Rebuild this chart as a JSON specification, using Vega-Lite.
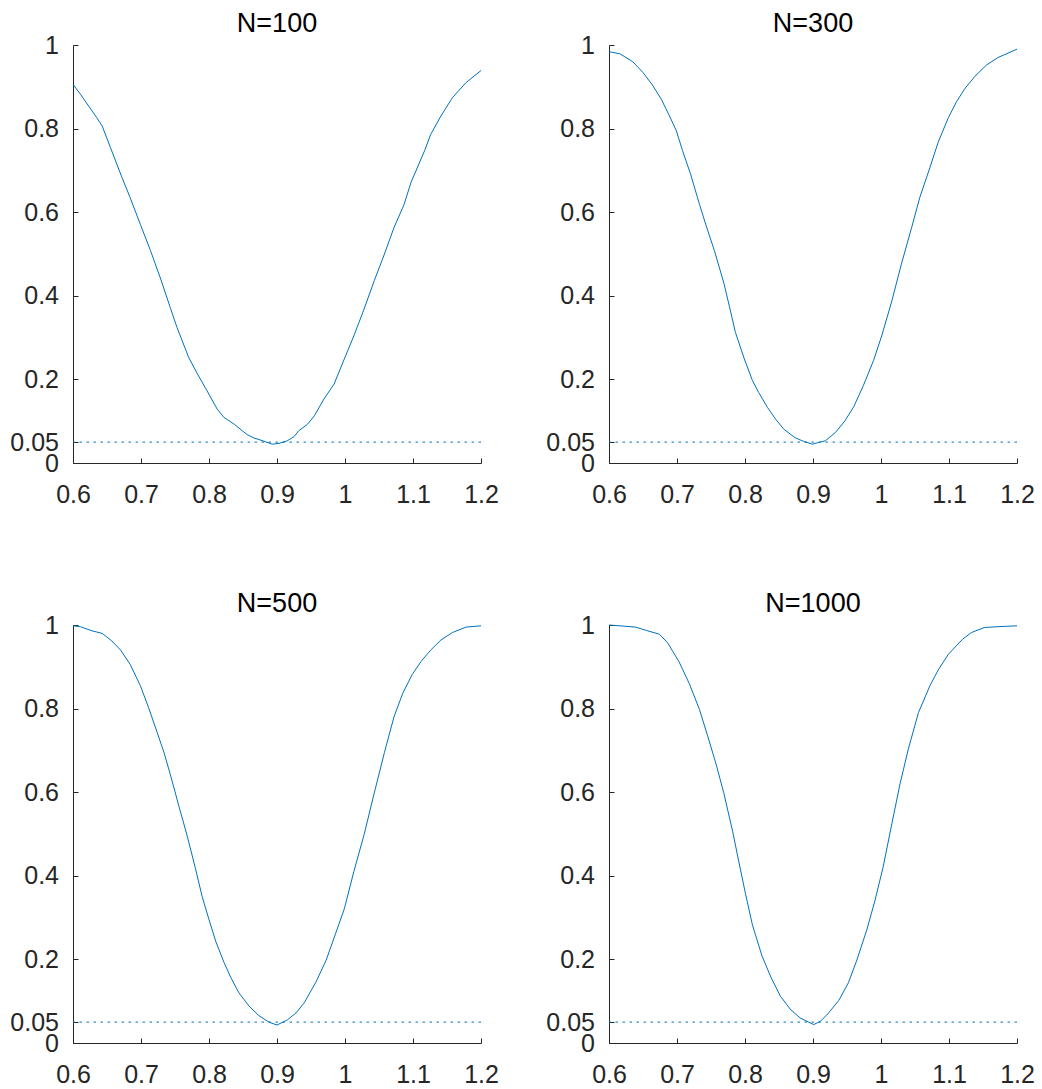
{
  "$schema": "https://vega.github.io/schema/vega-lite/v6.json",
  "background": "white",
  "padding": {"left": 9, "top": 10, "right": 5, "bottom": 5},
  "datasets": {
    "power": [
      {"N":100,"x":0.600,"p":0.906},{"N":100,"x":0.611,"p":0.882},{"N":100,"x":0.635,"p":0.826},{"N":100,"x":0.643,"p":0.806},{"N":100,"x":0.655,"p":0.755},{"N":100,"x":0.672,"p":0.683},{"N":100,"x":0.684,"p":0.635},{"N":100,"x":0.699,"p":0.571},{"N":100,"x":0.714,"p":0.508},{"N":100,"x":0.729,"p":0.440},{"N":100,"x":0.743,"p":0.372},{"N":100,"x":0.753,"p":0.324},{"N":100,"x":0.770,"p":0.253},{"N":100,"x":0.783,"p":0.213},{"N":100,"x":0.797,"p":0.173},{"N":100,"x":0.812,"p":0.129},{"N":100,"x":0.822,"p":0.109},{"N":100,"x":0.837,"p":0.093},{"N":100,"x":0.849,"p":0.077},{"N":100,"x":0.856,"p":0.068},{"N":100,"x":0.866,"p":0.060},{"N":100,"x":0.881,"p":0.052},{"N":100,"x":0.893,"p":0.045},{"N":100,"x":0.903,"p":0.047},{"N":100,"x":0.915,"p":0.053},{"N":100,"x":0.925,"p":0.063},{"N":100,"x":0.932,"p":0.077},{"N":100,"x":0.945,"p":0.093},{"N":100,"x":0.955,"p":0.113},{"N":100,"x":0.969,"p":0.153},{"N":100,"x":0.984,"p":0.189},{"N":100,"x":0.999,"p":0.249},{"N":100,"x":1.013,"p":0.304},{"N":100,"x":1.028,"p":0.368},{"N":100,"x":1.043,"p":0.436},{"N":100,"x":1.058,"p":0.500},{"N":100,"x":1.072,"p":0.563},{"N":100,"x":1.087,"p":0.619},{"N":100,"x":1.097,"p":0.671},{"N":100,"x":1.117,"p":0.747},{"N":100,"x":1.126,"p":0.786},{"N":100,"x":1.141,"p":0.830},{"N":100,"x":1.158,"p":0.874},{"N":100,"x":1.178,"p":0.910},{"N":100,"x":1.200,"p":0.939},
      {"N":300,"x":0.600,"p":0.984},{"N":300,"x":0.616,"p":0.979},{"N":300,"x":0.635,"p":0.960},{"N":300,"x":0.650,"p":0.934},{"N":300,"x":0.664,"p":0.904},{"N":300,"x":0.677,"p":0.870},{"N":300,"x":0.689,"p":0.830},{"N":300,"x":0.699,"p":0.795},{"N":300,"x":0.708,"p":0.748},{"N":300,"x":0.720,"p":0.691},{"N":300,"x":0.733,"p":0.619},{"N":300,"x":0.743,"p":0.567},{"N":300,"x":0.755,"p":0.508},{"N":300,"x":0.769,"p":0.430},{"N":300,"x":0.777,"p":0.375},{"N":300,"x":0.786,"p":0.312},{"N":300,"x":0.799,"p":0.249},{"N":300,"x":0.811,"p":0.197},{"N":300,"x":0.820,"p":0.169},{"N":300,"x":0.833,"p":0.133},{"N":300,"x":0.845,"p":0.105},{"N":300,"x":0.857,"p":0.081},{"N":300,"x":0.874,"p":0.060},{"N":300,"x":0.886,"p":0.052},{"N":300,"x":0.899,"p":0.045},{"N":300,"x":0.908,"p":0.049},{"N":300,"x":0.918,"p":0.053},{"N":300,"x":0.933,"p":0.073},{"N":300,"x":0.947,"p":0.101},{"N":300,"x":0.960,"p":0.135},{"N":300,"x":0.974,"p":0.185},{"N":300,"x":0.989,"p":0.245},{"N":300,"x":1.001,"p":0.304},{"N":300,"x":1.016,"p":0.388},{"N":300,"x":1.030,"p":0.476},{"N":300,"x":1.045,"p":0.563},{"N":300,"x":1.057,"p":0.635},{"N":300,"x":1.072,"p":0.707},{"N":300,"x":1.084,"p":0.767},{"N":300,"x":1.099,"p":0.826},{"N":300,"x":1.111,"p":0.864},{"N":300,"x":1.123,"p":0.895},{"N":300,"x":1.138,"p":0.925},{"N":300,"x":1.155,"p":0.952},{"N":300,"x":1.172,"p":0.970},{"N":300,"x":1.200,"p":0.990},
      {"N":500,"x":0.600,"p":0.998},{"N":500,"x":0.611,"p":0.996},{"N":500,"x":0.628,"p":0.986},{"N":500,"x":0.643,"p":0.980},{"N":500,"x":0.657,"p":0.962},{"N":500,"x":0.670,"p":0.940},{"N":500,"x":0.684,"p":0.906},{"N":500,"x":0.699,"p":0.855},{"N":500,"x":0.711,"p":0.803},{"N":500,"x":0.724,"p":0.742},{"N":500,"x":0.734,"p":0.694},{"N":500,"x":0.743,"p":0.643},{"N":500,"x":0.756,"p":0.565},{"N":500,"x":0.768,"p":0.495},{"N":500,"x":0.780,"p":0.418},{"N":500,"x":0.790,"p":0.350},{"N":500,"x":0.800,"p":0.295},{"N":500,"x":0.810,"p":0.243},{"N":500,"x":0.822,"p":0.193},{"N":500,"x":0.832,"p":0.157},{"N":500,"x":0.844,"p":0.120},{"N":500,"x":0.859,"p":0.088},{"N":500,"x":0.873,"p":0.066},{"N":500,"x":0.888,"p":0.050},{"N":500,"x":0.900,"p":0.043},{"N":500,"x":0.915,"p":0.055},{"N":500,"x":0.928,"p":0.072},{"N":500,"x":0.940,"p":0.096},{"N":500,"x":0.957,"p":0.145},{"N":500,"x":0.972,"p":0.197},{"N":500,"x":0.986,"p":0.261},{"N":500,"x":0.999,"p":0.321},{"N":500,"x":1.013,"p":0.410},{"N":500,"x":1.028,"p":0.498},{"N":500,"x":1.043,"p":0.598},{"N":500,"x":1.058,"p":0.695},{"N":500,"x":1.072,"p":0.780},{"N":500,"x":1.085,"p":0.837},{"N":500,"x":1.099,"p":0.882},{"N":500,"x":1.112,"p":0.913},{"N":500,"x":1.126,"p":0.940},{"N":500,"x":1.141,"p":0.964},{"N":500,"x":1.158,"p":0.982},{"N":500,"x":1.178,"p":0.995},{"N":500,"x":1.200,"p":0.998},
      {"N":1000,"x":0.600,"p":1.000},{"N":1000,"x":0.616,"p":0.998},{"N":1000,"x":0.639,"p":0.995},{"N":1000,"x":0.655,"p":0.987},{"N":1000,"x":0.674,"p":0.978},{"N":1000,"x":0.686,"p":0.958},{"N":1000,"x":0.703,"p":0.912},{"N":1000,"x":0.718,"p":0.860},{"N":1000,"x":0.733,"p":0.798},{"N":1000,"x":0.745,"p":0.735},{"N":1000,"x":0.757,"p":0.670},{"N":1000,"x":0.769,"p":0.597},{"N":1000,"x":0.782,"p":0.505},{"N":1000,"x":0.791,"p":0.433},{"N":1000,"x":0.801,"p":0.355},{"N":1000,"x":0.811,"p":0.282},{"N":1000,"x":0.825,"p":0.208},{"N":1000,"x":0.838,"p":0.158},{"N":1000,"x":0.852,"p":0.112},{"N":1000,"x":0.867,"p":0.080},{"N":1000,"x":0.881,"p":0.060},{"N":1000,"x":0.901,"p":0.044},{"N":1000,"x":0.911,"p":0.052},{"N":1000,"x":0.923,"p":0.072},{"N":1000,"x":0.938,"p":0.102},{"N":1000,"x":0.952,"p":0.144},{"N":1000,"x":0.964,"p":0.196},{"N":1000,"x":0.979,"p":0.270},{"N":1000,"x":0.991,"p":0.340},{"N":1000,"x":1.003,"p":0.420},{"N":1000,"x":1.016,"p":0.525},{"N":1000,"x":1.028,"p":0.620},{"N":1000,"x":1.040,"p":0.702},{"N":1000,"x":1.055,"p":0.790},{"N":1000,"x":1.072,"p":0.855},{"N":1000,"x":1.084,"p":0.892},{"N":1000,"x":1.099,"p":0.930},{"N":1000,"x":1.120,"p":0.966},{"N":1000,"x":1.133,"p":0.982},{"N":1000,"x":1.152,"p":0.994},{"N":1000,"x":1.172,"p":0.996},{"N":1000,"x":1.200,"p":0.998}
    ],
    "level": [{"alpha": 0.05}]
  },
  "columns": 2,
  "spacing": {"row": 162, "column": 128},
  "bounds": "flush",
  "concat": [
    {
      "width": 408, "height": 418,
      "title": "N=100",
      "layer": [
        {
          "data": {"name": "power"},
          "transform": [{"filter": "datum.N == 100"}],
          "mark": {"type": "line", "color": "#0072BD", "strokeWidth": 1},
          "encoding": {
            "x": {"field": "x", "type": "quantitative", "scale": {"domain": [0.6, 1.2], "nice": false, "zero": false}, "axis": {"title": null, "values": [0.6, 0.7, 0.8, 0.9, 1, 1.1, 1.2]}},
            "y": {"field": "p", "type": "quantitative", "scale": {"domain": [0, 1], "nice": false}, "axis": {"title": null, "values": [0, 0.05, 0.2, 0.4, 0.6, 0.8, 1]}}
          }
        },
        {
          "data": {"name": "level"},
          "mark": {"type": "rule", "color": "#0072BD", "strokeDash": [2.5, 4.5], "strokeWidth": 1},
          "encoding": {"y": {"field": "alpha", "type": "quantitative"}}
        }
      ]
    },
    {
      "width": 408, "height": 418,
      "title": "N=300",
      "layer": [
        {
          "data": {"name": "power"},
          "transform": [{"filter": "datum.N == 300"}],
          "mark": {"type": "line", "color": "#0072BD", "strokeWidth": 1},
          "encoding": {
            "x": {"field": "x", "type": "quantitative", "scale": {"domain": [0.6, 1.2], "nice": false, "zero": false}, "axis": {"title": null, "values": [0.6, 0.7, 0.8, 0.9, 1, 1.1, 1.2]}},
            "y": {"field": "p", "type": "quantitative", "scale": {"domain": [0, 1], "nice": false}, "axis": {"title": null, "values": [0, 0.05, 0.2, 0.4, 0.6, 0.8, 1]}}
          }
        },
        {
          "data": {"name": "level"},
          "mark": {"type": "rule", "color": "#0072BD", "strokeDash": [2.5, 4.5], "strokeWidth": 1},
          "encoding": {"y": {"field": "alpha", "type": "quantitative"}}
        }
      ]
    },
    {
      "width": 408, "height": 418,
      "title": "N=500",
      "layer": [
        {
          "data": {"name": "power"},
          "transform": [{"filter": "datum.N == 500"}],
          "mark": {"type": "line", "color": "#0072BD", "strokeWidth": 1},
          "encoding": {
            "x": {"field": "x", "type": "quantitative", "scale": {"domain": [0.6, 1.2], "nice": false, "zero": false}, "axis": {"title": null, "values": [0.6, 0.7, 0.8, 0.9, 1, 1.1, 1.2]}},
            "y": {"field": "p", "type": "quantitative", "scale": {"domain": [0, 1], "nice": false}, "axis": {"title": null, "values": [0, 0.05, 0.2, 0.4, 0.6, 0.8, 1]}}
          }
        },
        {
          "data": {"name": "level"},
          "mark": {"type": "rule", "color": "#0072BD", "strokeDash": [2.5, 4.5], "strokeWidth": 1},
          "encoding": {"y": {"field": "alpha", "type": "quantitative"}}
        }
      ]
    },
    {
      "width": 408, "height": 418,
      "title": "N=1000",
      "layer": [
        {
          "data": {"name": "power"},
          "transform": [{"filter": "datum.N == 1000"}],
          "mark": {"type": "line", "color": "#0072BD", "strokeWidth": 1},
          "encoding": {
            "x": {"field": "x", "type": "quantitative", "scale": {"domain": [0.6, 1.2], "nice": false, "zero": false}, "axis": {"title": null, "values": [0.6, 0.7, 0.8, 0.9, 1, 1.1, 1.2]}},
            "y": {"field": "p", "type": "quantitative", "scale": {"domain": [0, 1], "nice": false}, "axis": {"title": null, "values": [0, 0.05, 0.2, 0.4, 0.6, 0.8, 1]}}
          }
        },
        {
          "data": {"name": "level"},
          "mark": {"type": "rule", "color": "#0072BD", "strokeDash": [2.5, 4.5], "strokeWidth": 1},
          "encoding": {"y": {"field": "alpha", "type": "quantitative"}}
        }
      ]
    }
  ],
  "config": {
    "view": {"stroke": null},
    "font": "Liberation Sans",
    "axis": {
      "grid": false,
      "domainColor": "#262626",
      "domainWidth": 1,
      "tickColor": "#262626",
      "tickWidth": 1,
      "tickSize": -5,
      "labelColor": "#262626",
      "labelFont": "Liberation Sans",
      "labelFontSize": 25,
      "labelOverlap": false,
      "labelFlush": false,
      "labelBound": false,
      "format": "~g"
    },
    "axisX": {"labelPadding": 24},
    "axisY": {"labelPadding": 19.5},
    "title": {
      "font": "Liberation Sans",
      "fontSize": 27,
      "fontWeight": "normal",
      "color": "#000000",
      "frame": "group",
      "anchor": "middle",
      "baseline": "alphabetic",
      "offset": -5
    }
  }
}
